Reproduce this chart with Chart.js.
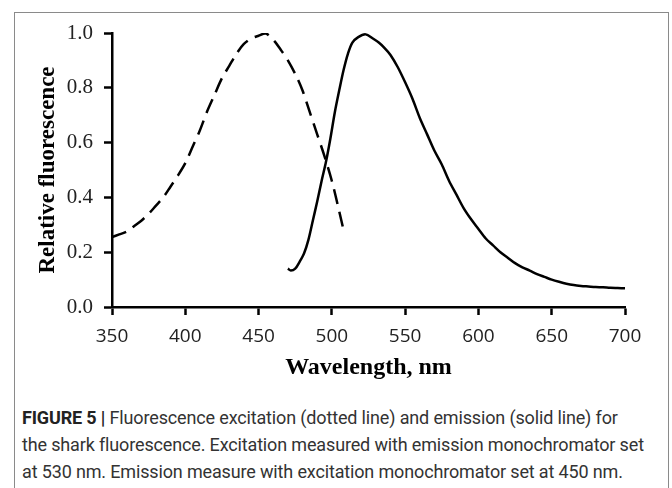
<!DOCTYPE html>
<html>
<head>
<meta charset="utf-8">
<script src="https://cdn.jsdelivr.net/npm/chart.js@4"></script>
<style>
    body { margin: 0; background: #fff; width: 672px; height: 488px; overflow: hidden; position: relative; }
    .frame { position: absolute; left: 14px; top: 12px; width: 655px; height: 520px; border: 1.5px solid #8a8a8a; box-sizing: border-box; }
    #chart { position: absolute; left: 0; top: 0; }
    .caption { position: absolute; left: 22px; top: 404px; font-family: Roboto, sans-serif; font-size: 18px; line-height: 27px; color: #333; letter-spacing: -0.15px; white-space: nowrap; }
    .caption b { font-weight: 700; color: #222; }
</style>
</head>
<body>
<div class="frame"></div>
<canvas id="chart" width="672" height="390"></canvas>
<div class="caption">
    <div><b>FIGURE 5 |</b> Fluorescence excitation (dotted line) and emission (solid line) for</div>
    <div>the shark fluorescence. Excitation measured with emission monochromator set</div>
    <div>at 530 nm. Emission measure with excitation monochromator set at 450 nm.</div>
</div>
<script>
// Excitation spectrum (dashed)
const excitationNm = [350, 355, 360, 365, 370, 375, 380, 385, 390, 395, 400, 405, 410, 415, 420, 425, 430, 435, 440, 445, 450, 455, 460, 465, 470, 476, 480, 485, 490, 495, 500, 505, 508];
const excitationVal = [0.255, 0.265, 0.275, 0.295, 0.315, 0.34, 0.37, 0.40, 0.44, 0.48, 0.525, 0.585, 0.645, 0.715, 0.775, 0.835, 0.88, 0.925, 0.96, 0.98, 0.99, 0.998, 0.975, 0.94, 0.90, 0.84, 0.79, 0.71, 0.63, 0.55, 0.46, 0.35, 0.28];

// Emission spectrum (solid)
const emissionNm = [470, 472, 475, 478, 481, 484, 487, 490, 493, 496, 499, 502, 505, 508, 511, 514, 518, 523, 528, 532, 536, 540, 545, 550, 555, 560, 565, 570, 575, 580, 585, 590, 595, 600, 605, 610, 615, 620, 625, 630, 635, 640, 645, 650, 655, 660, 665, 670, 675, 680, 685, 690, 695, 700];
const emissionVal = [0.14, 0.133, 0.14, 0.165, 0.195, 0.245, 0.315, 0.385, 0.46, 0.53, 0.615, 0.71, 0.79, 0.865, 0.925, 0.965, 0.985, 0.995, 0.98, 0.965, 0.945, 0.92, 0.875, 0.82, 0.76, 0.69, 0.63, 0.57, 0.52, 0.46, 0.41, 0.36, 0.32, 0.285, 0.25, 0.225, 0.20, 0.18, 0.16, 0.145, 0.133, 0.12, 0.11, 0.10, 0.092, 0.085, 0.08, 0.077, 0.075, 0.073, 0.072, 0.07, 0.069, 0.068];

// Axis ticks
const xTicks = [350, 400, 450, 500, 550, 600, 650, 700];
const yTicks = [0, 0.2, 0.4, 0.6, 0.8, 1.0];

const toPoints = (xs, ys) => xs.map((x, i) => ({ x: x, y: ys[i] }));

new Chart(document.getElementById('chart').getContext('2d'), {
    type: 'line',
    data: {
        datasets: [
            {
                label: 'Excitation',
                data: toPoints(excitationNm, excitationVal),
                borderColor: '#000',
                borderWidth: 2.5,
                borderDash: [15, 8],
                pointRadius: 0,
                tension: 0.3,
                fill: false
            },
            {
                label: 'Emission',
                data: toPoints(emissionNm, emissionVal),
                borderColor: '#000',
                borderWidth: 2.5,
                pointRadius: 0,
                tension: 0.3,
                fill: false
            }
        ]
    },
    options: {
        responsive: false,
        animation: false,
        layout: { padding: { left: 20, right: 47, top: 33, bottom: 8 } },
        plugins: { legend: { display: false }, tooltip: { enabled: false } },
        scales: {
            x: {
                type: 'linear',
                min: xTicks[0],
                max: xTicks[xTicks.length - 1],
                afterFit: (scale) => { scale.height = 75; },
                grid: { drawOnChartArea: false, tickLength: 8, tickColor: '#000', tickWidth: 2.5 },
                border: { color: '#000', width: 2.5 },
                ticks: {
                    stepSize: xTicks[1] - xTicks[0],
                    padding: 10,
                    color: '#222',
                    font: { family: 'Open Sans', size: 19 },
                    maxRotation: 0,
                    callback: (v) => v
                },
                title: {
                    display: true,
                    text: 'Wavelength, nm',
                    color: '#000',
                    font: { family: 'Liberation Serif', size: 24, weight: 'bold' },
                    padding: { top: 0, bottom: 0 }
                }
            },
            y: {
                min: yTicks[0],
                max: yTicks[yTicks.length - 1],
                afterFit: (scale) => { scale.width = 92; },
                grid: { drawOnChartArea: false, tickLength: 8, tickColor: '#000', tickWidth: 2.5 },
                border: { color: '#000', width: 2.5 },
                ticks: {
                    stepSize: yTicks[1] - yTicks[0],
                    padding: 11,
                    color: '#222',
                    font: { family: 'Liberation Serif', size: 21 },
                    callback: (v) => Number(v).toFixed(1)
                },
                title: {
                    display: true,
                    text: 'Relative fluorescence',
                    color: '#000',
                    font: { family: 'Liberation Serif', size: 23, weight: 'bold' },
                    padding: { top: 14, bottom: 0 }
                }
            }
        }
    }
});
</script>
</body>
</html>
